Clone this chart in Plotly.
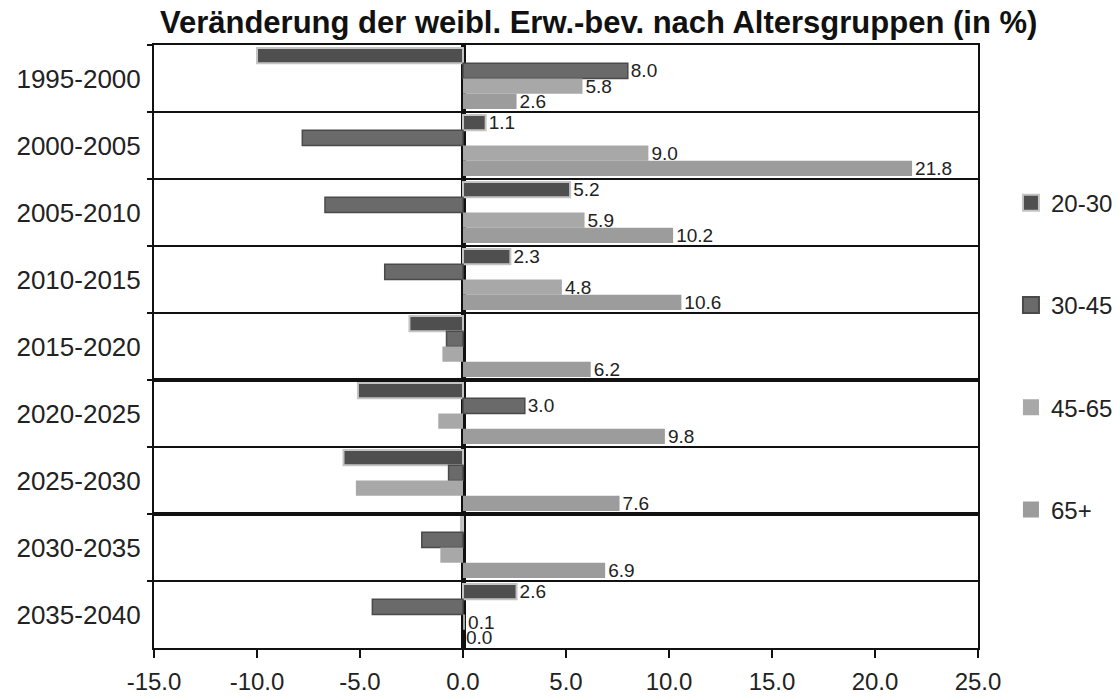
import plotly.graph_objects as go

# Zeiträume (Kategorien der y-Achse)
perioden = ["1995-2000", "2000-2005", "2005-2010", "2010-2015", "2015-2020",
            "2020-2025", "2025-2030", "2030-2035", "2035-2040"]

# Veränderung der weiblichen Erwerbsbevölkerung in % je Altersgruppe
g20_30 = [-10.0, 1.1, 5.2, 2.3, -2.6, -5.1, -5.8, -0.1, 2.6]
g30_45 = [8.0, -7.8, -6.7, -3.8, -0.8, 3.0, -0.7, -2.0, -4.4]
g45_65 = [5.8, 9.0, 5.9, 4.8, -1.0, -1.2, -5.2, -1.1, 0.1]
g65_plus = [2.6, 21.8, 10.2, 10.6, 6.2, 9.8, 7.6, 6.9, 0.0]

gruppen = ["20-30", "30-45", "45-65", "65+"]
werte = [g20_30, g30_45, g45_65, g65_plus]

# Achsenbeschriftung der x-Achse (mit normalem Bindestrich als Minus)
x_ticks = [-15, -10, -5, 0, 5, 10, 15, 20, 25]
x_ticktext = ["-15.0", "-10.0", "-5.0", "0.0", "5.0", "10.0", "15.0", "20.0", "25.0"]

fuellung = ["#4f4f4f", "#6a6a6a", "#a8a8a8", "#9c9c9c"]
rand = ["#c4c4c4", "#4a4a4a", "#a8a8a8", "#9c9c9c"]
randbreite = [2, 1.5, 0, 0]

FONT = "Liberation Sans, Arial, sans-serif"

fig = go.Figure()
for name, vals, fc, lc, lw in zip(gruppen, werte, fuellung, rand, randbreite):
    fig.add_trace(go.Bar(
        y=perioden, x=vals, orientation="h", name=name,
        marker=dict(color=fc, line=dict(color=lc, width=lw)),
        text=[f"{v:.1f}" if v >= 0 else "" for v in vals],
        textposition="outside", constraintext="none", cliponaxis=False,
        textfont=dict(family=FONT, size=19, color="#222222"),
        showlegend=False, hoverinfo="x+y+name",
    ))
    # Legendeneintrag mit größerem Quadrat
    fig.add_trace(go.Scatter(
        x=[None], y=[None], mode="markers", name=name,
        legendgroup=name,
        marker=dict(symbol="square", size=16, color=fc,
                    line=dict(color=lc, width=2 if lw else 0)),
    ))

# etwas kräftigere Trennlinien zwischen einzelnen Zeiträumen
for grenze in (4.5, 6.5):
    fig.add_shape(type="line", xref="paper", x0=0, x1=1, yref="y",
                  y0=grenze, y1=grenze, line=dict(color="#111111", width=4))

fig.update_layout(
    width=1119, height=699,
    margin=dict(l=154, r=141, t=45, b=51, autoexpand=False),
    paper_bgcolor="white", plot_bgcolor="white",
    barmode="group", bargap=0.09, bargroupgap=0,
    font=dict(family=FONT, color="#222222"),
    title=dict(
        text="<b>Veränderung der weibl. Erw.-bev. nach Altersgruppen (in %)</b>",
        x=0.535, xanchor="center", y=0.968, yanchor="middle",
        font=dict(family=FONT, size=31, color="#111111"),
    ),
    legend=dict(
        x=1.04, xanchor="left", y=0.775, yanchor="top",
        font=dict(family=FONT, size=24, color="#222222"),
        tracegroupgap=68, bgcolor="rgba(0,0,0,0)",
    ),
)

fig.update_xaxes(
    range=[-15, 25], tickvals=x_ticks, ticktext=x_ticktext,
    showgrid=False, zeroline=True, zerolinecolor="#111111", zerolinewidth=5,
    showline=True, linecolor="#111111", linewidth=2, mirror=True,
    ticks="outside", ticklen=8, tickwidth=2, tickcolor="#111111",
    ticklabelstandoff=3, automargin=False,
    tickfont=dict(family=FONT, size=24, color="#222222"),
)
fig.update_yaxes(
    autorange="reversed", tickson="boundaries",
    showgrid=True, gridcolor="#111111", gridwidth=2,
    showline=True, linecolor="#111111", linewidth=2, mirror=True,
    ticks="outside", ticklen=5, tickwidth=2, tickcolor="#111111",
    ticklabelstandoff=6, automargin=False,
    tickfont=dict(family=FONT, size=26, color="#222222"),
)

fig.write_html("out.html")
